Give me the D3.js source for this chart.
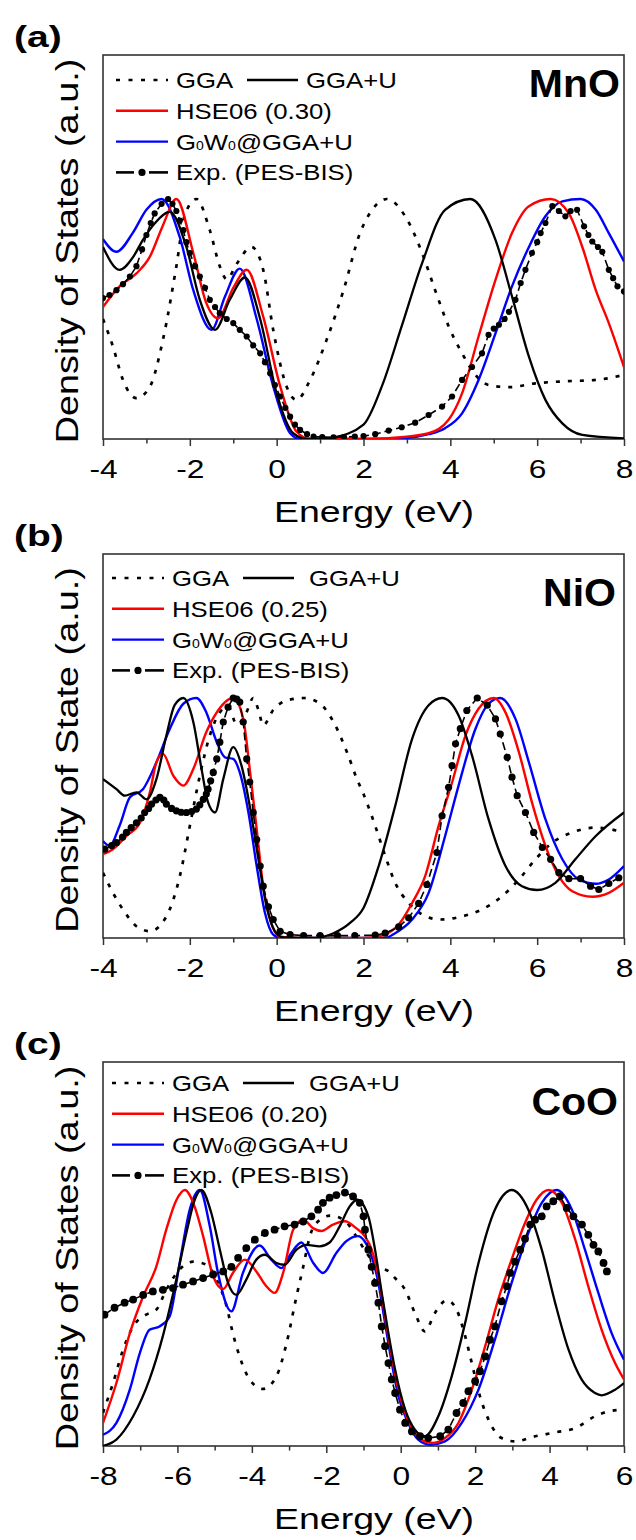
<!DOCTYPE html>
<html>
<head>
<meta charset="utf-8">
<script src="https://cdn.jsdelivr.net/npm/d3@7"></script>
<style>
  body { margin: 0; background: #fff; }
  svg { display: block; font-family: "Liberation Sans", Arial, sans-serif; }
</style>
</head>
<body>
<svg id="chart" width="636" height="1540"></svg>
<script>
// ---- MnO (panel a) : [energy eV, DOS a.u.] ----
const mnoGGA = [[-4,0.50],[-3.77,0.385],[-3.54,0.246],[-3.23,0.17],[-2.92,0.218],[-2.62,0.413],[-2.31,0.72],[-2.12,0.93],[-1.85,1.0],[-1.54,0.87],[-1.31,0.72],[-1.15,0.665],[-0.92,0.73],[-0.58,0.80],[-0.31,0.705],[-0.08,0.455],[0.23,0.218],[0.46,0.163],[0.77,0.246],[1.15,0.413],[1.54,0.62],[1.92,0.858],[2.2,0.955],[2.54,1.0],[2.96,0.928],[3.35,0.775],[3.65,0.62],[3.96,0.47],[4.27,0.357],[4.58,0.267],[4.88,0.225],[5.35,0.216],[5.96,0.232],[6.58,0.24],[7.35,0.246],[8,0.267]];
const mnoGGAU = [[-4,0.80],[-3.62,0.705],[-3.3,0.76],[-3.08,0.83],[-2.8,0.90],[-2.46,0.946],[-2.08,0.80],[-1.77,0.58],[-1.42,0.455],[-1.08,0.58],[-0.73,0.673],[-0.38,0.50],[0,0.19],[0.38,0.024],[0.7,0.0],[1.0,0.0],[1.3,0.006],[2.0,0.06],[2.42,0.218],[2.88,0.47],[3.35,0.733],[3.88,0.955],[4.46,1.0],[5.04,0.83],[5.42,0.594],[5.81,0.343],[6.19,0.163],[6.58,0.065],[7.04,0.017],[8,0.003]];
const mnoHSE = [[-4,0.55],[-3.62,0.636],[-3.23,0.69],[-2.92,0.76],[-2.62,0.89],[-2.31,1.0],[-1.92,0.775],[-1.62,0.566],[-1.35,0.503],[-1.0,0.63],[-0.69,0.705],[-0.31,0.51],[0.08,0.22],[0.46,0.03],[0.77,0.0],[2.0,0.0],[3.0,0.01],[3.5,0.024],[3.96,0.08],[4.27,0.19],[4.65,0.427],[5.04,0.663],[5.42,0.858],[5.81,0.97],[6.31,1.0],[6.73,0.94],[7.04,0.80],[7.35,0.62],[7.65,0.483],[8,0.30]];
const mnoGW = [[-4,0.833],[-3.69,0.78],[-3.31,0.86],[-3.0,0.955],[-2.65,1.0],[-2.23,0.84],[-1.92,0.62],[-1.5,0.455],[-1.19,0.594],[-0.85,0.71],[-0.46,0.50],[-0.08,0.22],[0.31,0.024],[0.54,0.0],[2,0.0],[3.0,0.005],[3.5,0.02],[3.88,0.045],[4.27,0.107],[4.65,0.246],[5.04,0.44],[5.42,0.636],[5.81,0.80],[6.19,0.928],[6.58,0.99],[7.0,1.0],[7.35,0.955],[7.65,0.858],[8,0.74]];
const mnoExp = [[-4.0,0.587],[-3.85,0.60],[-3.69,0.62],[-3.54,0.645],[-3.38,0.677],[-3.23,0.72],[-3.1,0.79],[-3.0,0.85],[-2.9,0.90],[-2.81,0.94],[-2.65,0.98],[-2.5,1.0],[-2.4,0.98],[-2.31,0.95],[-2.23,0.91],[-2.15,0.87],[-2.08,0.82],[-2.0,0.775],[-1.88,0.72],[-1.77,0.677],[-1.65,0.63],[-1.54,0.58],[-1.42,0.55],[-1.31,0.524],[-1.15,0.50],[-1.0,0.483],[-0.85,0.455],[-0.69,0.427],[-0.54,0.39],[-0.38,0.357],[-0.27,0.32],[-0.15,0.274],[-0.04,0.225],[0.08,0.177],[0.2,0.13],[0.31,0.093],[0.42,0.06],[0.54,0.038],[0.7,0.02],[0.85,0.01],[1.05,0.008],[1.31,0.007],[1.55,0.008],[1.8,0.01],[2.0,0.012],[2.27,0.02],[2.58,0.035],[2.88,0.049],[3.19,0.068],[3.5,0.10],[3.81,0.135],[4.04,0.177],[4.27,0.246],[4.5,0.30],[4.73,0.357],[4.88,0.434],[5.0,0.46],[5.12,0.476],[5.25,0.50],[5.35,0.53],[5.5,0.58],[5.62,0.65],[5.73,0.705],[5.88,0.775],[6.0,0.82],[6.08,0.858],[6.19,0.90],[6.35,0.97],[6.5,0.95],[6.65,0.928],[6.77,0.95],[6.92,0.955],[7.08,0.886],[7.18,0.85],[7.27,0.823],[7.4,0.80],[7.5,0.78],[7.65,0.705],[7.75,0.67],[7.85,0.636],[8.0,0.615]];

// ---- NiO (panel b) ----
const nioGGA = [[-4,0.272],[-3.77,0.188],[-3.54,0.119],[-3.23,0.049],[-2.92,0.028],[-2.54,0.09],[-2.23,0.258],[-2.0,0.467],[-1.77,0.676],[-1.54,0.844],[-1.31,0.94],[-1.12,0.965],[-0.92,0.89],[-0.72,0.93],[-0.54,1.0],[-0.42,0.95],[-0.31,0.886],[-0.08,0.95],[0.23,0.99],[0.62,1.0],[1.0,0.976],[1.31,0.90],[1.62,0.774],[1.85,0.662],[2.0,0.60],[2.27,0.467],[2.5,0.342],[2.73,0.23],[3.04,0.146],[3.35,0.098],[3.77,0.077],[4.27,0.09],[4.73,0.119],[5.19,0.174],[5.58,0.244],[5.96,0.328],[6.35,0.397],[6.81,0.44],[7.35,0.46],[8,0.44]];
const nioGGAU = [[-4,0.662],[-3.69,0.62],[-3.5,0.593],[-3.23,0.607],[-3.0,0.578],[-2.77,0.662],[-2.54,0.844],[-2.35,0.97],[-2.15,1.0],[-1.92,0.90],[-1.73,0.704],[-1.58,0.565],[-1.42,0.523],[-1.23,0.662],[-1.0,0.795],[-0.81,0.718],[-0.62,0.55],[-0.42,0.328],[-0.23,0.13],[-0.04,0.028],[0.15,0.003],[0.85,0.0],[1.31,0.02],[1.69,0.063],[2.0,0.125],[2.35,0.30],[2.73,0.55],[3.12,0.83],[3.5,0.97],[3.81,1.0],[4.19,0.927],[4.5,0.76],[4.88,0.495],[5.27,0.30],[5.65,0.216],[6.0,0.20],[6.42,0.23],[6.88,0.328],[7.35,0.425],[8,0.523]];
const nioHSE = [[-4,0.349],[-3.77,0.37],[-3.46,0.425],[-3.15,0.48],[-2.92,0.607],[-2.77,0.732],[-2.62,0.767],[-2.38,0.676],[-2.15,0.635],[-1.92,0.704],[-1.62,0.858],[-1.38,0.94],[-1.0,1.0],[-0.77,0.913],[-0.62,0.704],[-0.46,0.453],[-0.31,0.216],[-0.15,0.077],[0.08,0.005],[0.5,0.0],[2.0,0.0],[2.42,0.01],[2.81,0.056],[3.12,0.146],[3.42,0.258],[3.73,0.467],[4.04,0.648],[4.35,0.844],[4.65,0.955],[5.0,1.0],[5.27,0.94],[5.58,0.774],[5.88,0.565],[6.19,0.384],[6.5,0.258],[6.81,0.195],[7.27,0.172],[7.65,0.188],[8,0.23]];
const nioGW = [[-4,0.404],[-3.85,0.384],[-3.62,0.467],[-3.38,0.586],[-3.08,0.62],[-2.77,0.732],[-2.46,0.872],[-2.15,0.976],[-1.85,1.0],[-1.62,0.94],[-1.38,0.816],[-1.19,0.753],[-1.0,0.746],[-0.85,0.69],[-0.65,0.523],[-0.46,0.30],[-0.27,0.105],[-0.08,0.014],[0.1,0.0],[2.5,0.0],[2.73,0.02],[3.12,0.077],[3.5,0.188],[3.88,0.425],[4.19,0.635],[4.58,0.872],[4.88,0.976],[5.15,1.0],[5.5,0.913],[5.81,0.732],[6.19,0.495],[6.58,0.328],[6.96,0.244],[7.35,0.226],[7.65,0.244],[8,0.30]];
const nioExp = [[-3.96,0.37],[-3.8,0.385],[-3.69,0.397],[-3.55,0.42],[-3.46,0.44],[-3.35,0.46],[-3.23,0.48],[-3.12,0.50],[-3.04,0.523],[-2.95,0.54],[-2.88,0.558],[-2.78,0.575],[-2.69,0.586],[-2.6,0.575],[-2.54,0.558],[-2.42,0.54],[-2.31,0.53],[-2.2,0.524],[-2.08,0.523],[-1.96,0.527],[-1.85,0.537],[-1.77,0.555],[-1.69,0.578],[-1.62,0.60],[-1.58,0.62],[-1.52,0.655],[-1.46,0.69],[-1.38,0.746],[-1.31,0.816],[-1.23,0.90],[-1.12,0.962],[-1.0,1.0],[-0.92,0.995],[-0.85,0.983],[-0.77,0.90],[-0.69,0.746],[-0.62,0.65],[-0.54,0.523],[-0.46,0.41],[-0.38,0.30],[-0.31,0.216],[-0.19,0.13],[-0.08,0.077],[0.08,0.028],[0.31,0.014],[0.62,0.01],[1.0,0.01],[1.4,0.01],[1.8,0.01],[2.27,0.012],[2.5,0.02],[2.81,0.046],[3.04,0.084],[3.27,0.144],[3.46,0.223],[3.69,0.356],[3.81,0.509],[3.96,0.628],[4.04,0.718],[4.12,0.809],[4.23,0.872],[4.38,0.948],[4.62,1.0],[4.85,0.97],[5.04,0.913],[5.15,0.85],[5.31,0.753],[5.42,0.67],[5.54,0.593],[5.73,0.523],[5.92,0.44],[6.12,0.377],[6.31,0.328],[6.5,0.272],[6.73,0.247],[7.0,0.247],[7.23,0.216],[7.42,0.202],[7.65,0.227],[7.88,0.251]];

// ---- CoO (panel c) ----
const coGGA = [[-8,0.13],[-7.73,0.246],[-7.46,0.376],[-7.19,0.467],[-6.84,0.513],[-6.57,0.532],[-6.3,0.61],[-5.94,0.69],[-5.58,0.72],[-5.22,0.708],[-4.95,0.65],[-4.68,0.546],[-4.51,0.44],[-4.33,0.35],[-4.06,0.26],[-3.7,0.223],[-3.34,0.272],[-3.07,0.40],[-2.8,0.585],[-2.62,0.70],[-2.44,0.82],[-2.2,0.88],[-1.9,0.90],[-1.5,0.88],[-1.2,0.82],[-0.9,0.75],[-0.6,0.70],[-0.3,0.68],[-0.15,0.656],[0.12,0.61],[0.38,0.52],[0.65,0.448],[0.92,0.52],[1.24,0.57],[1.5,0.533],[1.73,0.43],[1.91,0.324],[2.13,0.194],[2.36,0.103],[2.71,0.031],[3.07,0.018],[3.61,0.038],[4.15,0.053],[4.69,0.07],[5.22,0.116],[5.58,0.135],[6.0,0.142]];
const coGGAU = [[-8,0.0],[-7.64,0.025],[-7.19,0.116],[-6.75,0.26],[-6.39,0.43],[-6.03,0.65],[-5.76,0.832],[-5.54,0.96],[-5.36,1.0],[-5.09,0.91],[-4.86,0.767],[-4.64,0.637],[-4.42,0.59],[-4.15,0.65],[-3.88,0.728],[-3.65,0.747],[-3.34,0.715],[-3.12,0.708],[-2.8,0.767],[-2.53,0.786],[-2.18,0.78],[-1.91,0.795],[-1.64,0.858],[-1.37,0.936],[-1.17,0.962],[-0.87,0.897],[-0.69,0.767],[-0.51,0.598],[-0.33,0.44],[-0.15,0.298],[0.12,0.142],[0.38,0.064],[0.65,0.038],[1.01,0.116],[1.37,0.272],[1.73,0.48],[2.09,0.715],[2.53,0.923],[2.98,1.0],[3.43,0.923],[3.79,0.767],[4.15,0.559],[4.51,0.376],[4.86,0.26],[5.22,0.207],[5.4,0.198],[5.76,0.22],[6.0,0.246]];
const coHSE = [[-8,0.09],[-7.64,0.246],[-7.28,0.44],[-6.92,0.585],[-6.57,0.70],[-6.3,0.845],[-6.03,0.96],[-5.8,1.0],[-5.54,0.936],[-5.31,0.82],[-5.04,0.663],[-4.77,0.613],[-4.51,0.676],[-4.19,0.728],[-3.88,0.682],[-3.61,0.624],[-3.39,0.598],[-3.16,0.676],[-2.89,0.845],[-2.62,0.884],[-2.35,0.85],[-2.13,0.84],[-1.82,0.865],[-1.5,0.878],[-1.19,0.85],[-0.97,0.82],[-0.78,0.767],[-0.6,0.663],[-0.42,0.506],[-0.24,0.35],[-0.06,0.22],[0.12,0.13],[0.38,0.05],[0.65,0.018],[0.88,0.012],[1.19,0.031],[1.55,0.09],[1.91,0.22],[2.27,0.39],[2.62,0.572],[2.98,0.728],[3.34,0.871],[3.65,0.962],[3.97,1.0],[4.33,0.95],[4.69,0.806],[5.04,0.624],[5.4,0.454],[5.76,0.324],[6.0,0.26]];
const coGW = [[-8,0.044],[-7.64,0.09],[-7.28,0.22],[-7.01,0.363],[-6.75,0.454],[-6.48,0.467],[-6.21,0.506],[-5.94,0.715],[-5.67,0.923],[-5.4,1.0],[-5.13,0.858],[-4.91,0.676],[-4.55,0.526],[-4.24,0.676],[-3.79,0.783],[-3.48,0.728],[-3.21,0.695],[-2.94,0.754],[-2.67,0.795],[-2.35,0.715],[-2.09,0.676],[-1.73,0.754],[-1.46,0.80],[-1.15,0.82],[-0.97,0.80],[-0.78,0.74],[-0.6,0.637],[-0.42,0.48],[-0.24,0.324],[-0.06,0.194],[0.2,0.09],[0.47,0.025],[0.79,0.005],[1.19,0.018],[1.64,0.09],[2.09,0.22],[2.53,0.415],[2.98,0.637],[3.43,0.832],[3.79,0.95],[4.19,1.0],[4.6,0.923],[4.95,0.767],[5.31,0.598],[5.67,0.44],[6.0,0.337]];
const coExp = [[-7.96,0.513],[-7.69,0.54],[-7.42,0.56],[-7.19,0.572],[-6.92,0.59],[-6.66,0.604],[-6.39,0.61],[-6.12,0.617],[-5.85,0.63],[-5.58,0.643],[-5.31,0.656],[-5.04,0.67],[-4.77,0.682],[-4.55,0.70],[-4.37,0.735],[-4.15,0.773],[-3.92,0.806],[-3.65,0.832],[-3.39,0.845],[-3.12,0.858],[-2.85,0.865],[-2.62,0.877],[-2.4,0.897],[-2.22,0.923],[-2.09,0.95],[-1.91,0.97],[-1.73,0.98],[-1.5,0.99],[-1.28,0.975],[-1.1,0.95],[-1.0,0.897],[-0.96,0.845],[-0.87,0.767],[-0.78,0.70],[-0.69,0.637],[-0.6,0.56],[-0.51,0.467],[-0.42,0.39],[-0.33,0.324],[-0.24,0.26],[-0.15,0.207],[-0.02,0.142],[0.12,0.09],[0.3,0.057],[0.52,0.038],[0.74,0.031],[1.06,0.038],[1.28,0.064],[1.5,0.129],[1.68,0.168],[1.82,0.214],[2.0,0.253],[2.13,0.292],[2.27,0.35],[2.4,0.415],[2.53,0.467],[2.71,0.565],[2.85,0.624],[2.94,0.676],[3.07,0.72],[3.21,0.767],[3.34,0.81],[3.48,0.865],[3.61,0.884],[3.79,0.897],[3.92,0.936],[4.1,0.956],[4.28,0.975],[4.46,0.93],[4.64,0.897],[4.87,0.865],[5.04,0.825],[5.18,0.786],[5.31,0.76],[5.45,0.715],[5.54,0.682]];

// axis ticks and legend labels
const ticksAB = [-4, -2, 0, 2, 4, 6, 8];
const minorAB = [-3, -1, 1, 3, 5, 7];
const ticksC = [-8, -6, -4, -2, 0, 2, 4, 6];
const minorC = [-7, -5, -3, -1, 1, 3, 5];
const hseLabels = ["HSE06 (0.30)", "HSE06 (0.25)", "HSE06 (0.20)"];

// layout for each panel
const panels = [
  { letter: "(a)", name: "MnO", top: 55, bottom: 439, xDomain: [-4, 8], yMax: 1.6,
    ticks: ticksAB, minor: minorAB, ylabel: "Density of States (a.u.)", hse: hseLabels[0],
    gga: mnoGGA, ggau: mnoGGAU, hseData: mnoHSE, gw: mnoGW, exp: mnoExp, dotR: 3.1,
    legY: 80, legX: 116, legX2: 247, legT2: 306, nameX: 620, nameY: 97 },
  { letter: "(b)", name: "NiO", top: 554, bottom: 938, xDomain: [-4, 8], yMax: 1.6,
    ticks: ticksAB, minor: minorAB, ylabel: "Density of State (a.u.)", hse: hseLabels[1],
    gga: nioGGA, ggau: nioGGAU, hseData: nioHSE, gw: nioGW, exp: nioExp, dotR: 3.6,
    legY: 578, legX: 112, legX2: 243, legT2: 309, nameX: 616, nameY: 606 },
  { letter: "(c)", name: "CoO", top: 1062, bottom: 1446, xDomain: [-8, 6], yMax: 1.5,
    ticks: ticksC, minor: minorC, ylabel: "Density of States (a.u.)", hse: hseLabels[2],
    gga: coGGA, ggau: coGGAU, hseData: coHSE, gw: coGW, exp: coExp, dotR: 3.9,
    legY: 1083, legX: 112, legX2: 243, legT2: 309, nameX: 618, nameY: 1115 }
];

const left = 103, right = 624;
const svg = d3.select("#chart");

panels.forEach((p, i) => {
  const x = d3.scaleLinear().domain(p.xDomain).range([left, right]);
  const y = d3.scaleLinear().domain([0, p.yMax]).range([p.bottom, p.top]);
  const g = svg.append("g");

  const clipId = "clip" + i;
  g.append("clipPath").attr("id", clipId)
    .append("rect").attr("x", left).attr("y", p.top)
    .attr("width", right - left).attr("height", p.bottom - p.top);

  // panel letter
  g.append("text")
    .attr("transform", `translate(14,${p.top - 8}) scale(1.3,1)`)
    .attr("font-size", 30).attr("font-weight", "bold")
    .text(p.letter);

  // x axis: major + minor ticks
  const major = g.append("g")
    .attr("transform", `translate(0,${p.bottom})`)
    .call(d3.axisBottom(x).tickValues(p.ticks).tickSize(7).tickSizeOuter(0)
      .tickPadding(13.5).tickFormat(d => String(d)));
  const minor = g.append("g")
    .attr("transform", `translate(0,${p.bottom})`)
    .call(d3.axisBottom(x).tickValues(p.minor).tickSize(4.5).tickSizeOuter(0).tickFormat(""));
  [major, minor].forEach(a => {
    a.attr("font-family", null).attr("font-size", null).style("color", "#333");
    a.select(".domain").remove();
    a.selectAll("line").attr("stroke-width", 1.5);
  });
  major.selectAll("text")
    .attr("font-size", 26).attr("fill", "#000")
    .attr("transform", "scale(1.22,1)");

  // frame
  g.append("rect")
    .attr("x", left).attr("y", p.top)
    .attr("width", right - left).attr("height", p.bottom - p.top)
    .attr("fill", "none").attr("stroke", "#333").attr("stroke-width", 1.6);

  // axis titles
  g.append("text")
    .attr("transform", `translate(374,${p.bottom + 83}) scale(1.25,1)`)
    .attr("text-anchor", "middle").attr("font-size", 30)
    .text("Energy (eV)");
  g.append("text")
    .attr("transform", `translate(78,${(p.top + p.bottom) / 2 + 4}) rotate(-90) scale(1.22,1)`)
    .attr("text-anchor", "middle").attr("font-size", 31)
    .text(p.ylabel);

  // curves
  const line = d3.line().x(d => x(d[0])).y(d => y(d[1])).curve(d3.curveMonotoneX);
  const plot = g.append("g").attr("clip-path", `url(#${clipId})`);
  plot.append("path").datum(p.gga).attr("d", line)
    .attr("fill", "none").attr("stroke", "#000").attr("stroke-width", 2.7)
    .attr("stroke-dasharray", "4,8");
  plot.append("path").datum(p.gw).attr("d", line)
    .attr("fill", "none").attr("stroke", "#0000ff").attr("stroke-width", 2.4);
  plot.append("path").datum(p.hseData).attr("d", line)
    .attr("fill", "none").attr("stroke", "#ff0000").attr("stroke-width", 2.4);
  plot.append("path").datum(p.ggau).attr("d", line)
    .attr("fill", "none").attr("stroke", "#000").attr("stroke-width", 2.3);

  // experiment: dash line + dots
  const expLine = d3.line().x(d => x(d[0])).y(d => y(d[1]));
  plot.append("path").datum(p.exp).attr("d", expLine)
    .attr("fill", "none").attr("stroke", "#000").attr("stroke-width", 1.6)
    .attr("stroke-dasharray", "8,4");
  plot.selectAll("circle.exp").data(p.exp).join("circle")
    .attr("class", "exp")
    .attr("cx", d => x(d[0])).attr("cy", d => y(d[1]))
    .attr("r", p.dotR).attr("fill", "#000");

  // panel name
  g.append("text")
    .attr("transform", `translate(${p.nameX},${p.nameY}) scale(1.08,1)`)
    .attr("text-anchor", "end").attr("font-size", 38).attr("font-weight", "bold")
    .text(p.name);

  // legend
  const leg = g.append("g");
  const rowH = 30.8;
  const lx0 = p.legX, lx1 = p.legX + 52, tx = p.legX + 60;
  const addText = (tx_, ty, txt) => leg.append("text")
    .attr("transform", `translate(${tx_},${ty + 8}) scale(1.17,1)`)
    .attr("font-size", 22).text(txt);

  leg.append("line").attr("x1", lx0).attr("x2", lx1).attr("y1", p.legY).attr("y2", p.legY)
    .attr("stroke", "#000").attr("stroke-width", 2.7).attr("stroke-dasharray", "4,8.5");
  addText(tx, p.legY, "GGA");
  leg.append("line").attr("x1", p.legX2).attr("x2", p.legX2 + 51).attr("y1", p.legY).attr("y2", p.legY)
    .attr("stroke", "#000").attr("stroke-width", 2.4);
  addText(p.legT2, p.legY, "GGA+U");

  const y2 = p.legY + rowH;
  leg.append("line").attr("x1", lx0).attr("x2", lx1).attr("y1", y2).attr("y2", y2)
    .attr("stroke", "#ff0000").attr("stroke-width", 2.4);
  addText(tx, y2, p.hse);

  const y3 = p.legY + rowH * 2;
  leg.append("line").attr("x1", lx0).attr("x2", lx1).attr("y1", y3).attr("y2", y3)
    .attr("stroke", "#0000ff").attr("stroke-width", 2.4);
  const gwText = leg.append("text")
    .attr("transform", `translate(${tx},${y3 + 8}) scale(1.17,1)`)
    .attr("font-size", 22);
  gwText.append("tspan").text("G");
  gwText.append("tspan").attr("font-size", 12).text("0");
  gwText.append("tspan").text("W");
  gwText.append("tspan").attr("font-size", 12).text("0");
  gwText.append("tspan").text("@GGA+U");

  const y4 = p.legY + rowH * 3;
  leg.append("line").attr("x1", lx0).attr("x2", lx0 + 18).attr("y1", y4).attr("y2", y4)
    .attr("stroke", "#000").attr("stroke-width", 2.6);
  leg.append("line").attr("x1", lx0 + 33).attr("x2", lx1).attr("y1", y4).attr("y2", y4)
    .attr("stroke", "#000").attr("stroke-width", 2.6);
  leg.append("circle").attr("cx", lx0 + 26).attr("cy", y4).attr("r", 3.6).attr("fill", "#000");
  addText(tx, y4, "Exp. (PES-BIS)");
});
</script>
</body>
</html>
